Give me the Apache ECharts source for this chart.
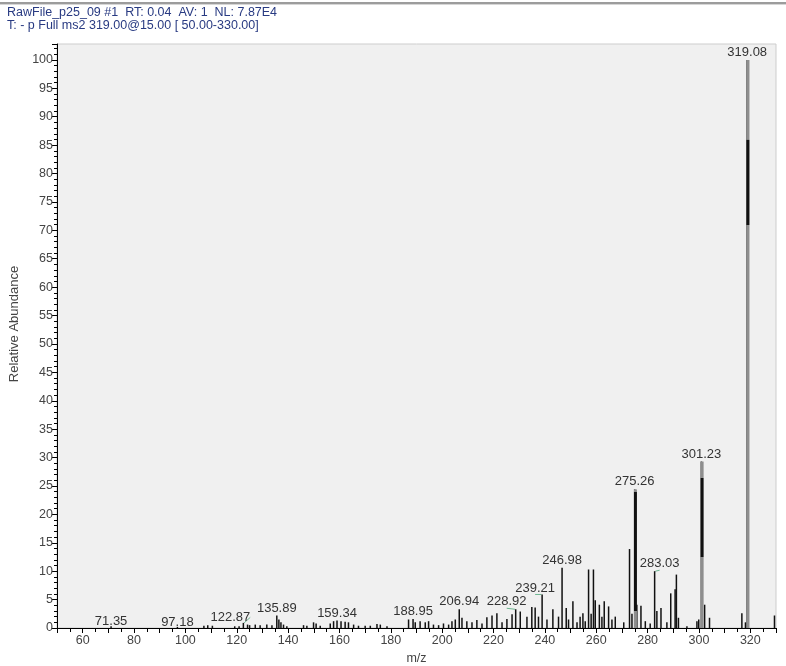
<!DOCTYPE html>
<html>
<head>
<meta charset="utf-8">
<title>MS2 spectrum</title>
<script src="https://cdn.jsdelivr.net/npm/echarts@6/dist/echarts.min.js"></script>
<style>
  html, body { margin: 0; padding: 0; background: #fff; }
  #spectrum { width: 786px; height: 666px; }
</style>
</head>
<body>
<div id="spectrum"></div>
<script>
// stick spectrum (m/z, relative abundance %)
const peakMz = [
  71.35, 97.18, 107.5, 109.0, 110.8, 119.5, 121.2, 122.87, 124.5, 125.3,
  127.5, 129.4, 132.0, 134.0, 135.89, 136.7, 137.5, 138.5, 139.8, 146.3,
  147.6, 150.2, 151.2, 152.8, 156.7, 158.0, 159.34, 160.9, 162.5, 163.8,
  165.8, 167.7, 170.3, 172.3, 174.9, 176.2, 178.8, 187.2, 188.95, 189.8,
  191.7, 193.7, 195.0, 196.9, 198.9, 200.8, 202.8, 204.1, 205.4, 206.94,
  208.0, 209.9, 211.9, 213.8, 215.8, 217.7, 219.7, 221.6, 223.6, 225.5,
  227.5, 228.92, 230.7, 233.3, 235.2, 236.5, 237.8, 239.21, 241.1, 243.4,
  245.6, 246.98, 248.6, 249.5, 251.2, 252.8, 254.0, 255.1, 256.0, 257.3,
  258.3, 259.2, 259.9, 261.5, 262.5, 263.4, 265.1, 266.4, 267.7, 271.0,
  273.25, 274.2, 275.26, 276.1, 277.7, 279.4, 281.3, 283.03, 283.9, 285.5,
  287.8, 289.3, 291.0, 291.5, 292.3, 295.6, 299.5, 300.2, 301.23, 302.5,
  304.4, 317.0, 318.4, 319.08, 329.7
];
const peakAbund = [
  0.3, 0.2, 0.4, 0.5, 0.4, 0.3, 0.3, 0.9, 0.6, 0.5,
  0.6, 0.5, 0.6, 0.5, 2.2, 1.5, 1.0, 0.6, 0.3, 0.5,
  0.4, 1.0, 0.8, 0.4, 0.8, 1.2, 1.3, 1.2, 1.1, 1.0,
  0.6, 0.4, 0.4, 0.4, 0.7, 0.6, 0.3, 1.5, 1.6, 1.0,
  1.2, 1.0, 1.2, 0.6, 0.5, 0.8, 0.6, 1.2, 1.5, 3.3,
  1.8, 1.2, 1.0, 1.4, 0.8, 1.9, 2.2, 2.6, 1.0, 1.6,
  2.4, 3.3, 2.9, 2.0, 3.7, 3.6, 2.0, 5.9, 1.5, 3.3,
  2.0, 10.6, 3.5, 1.5, 4.7, 1.0, 2.0, 2.6, 1.2, 10.3,
  2.5, 10.3, 4.9, 4.1, 2.0, 4.7, 3.8, 1.5, 2.0, 1.0,
  13.9, 2.5, 24.4, 4.1, 3.9, 1.2, 0.8, 10.0, 3.0, 3.5,
  1.0, 6.1, 6.8, 9.4, 1.8, 0.3, 1.2, 1.5, 29.3, 4.1,
  1.8, 2.6, 1.0, 100, 2.2
];
// peaks that carry an m/z annotation
const labelledMz = [71.35, 97.18, 122.87, 135.89, 159.34, 188.95, 206.94,
  228.92, 239.21, 246.98, 275.26, 283.03, 301.23, 319.08];
const yTicks = [0, 5, 10, 15, 20, 25, 30, 35, 40, 45, 50, 55, 60, 65, 70, 75, 80, 85, 90, 95, 100];
const xTicks = [60, 80, 100, 120, 140, 160, 180, 200, 220, 240, 260, 280, 300, 320];

const headerLine1 = 'RawFile_p25_09 #1  RT: 0.04  AV: 1  NL: 7.87E4';
const headerLine2 = 'T: - p Full ms2 319.00@15.00 [ 50.00-330.00]';

// label nudges (px) where the instrument software moved the text aside
const labelShift = {
  '71.35': [0, 3], '97.18': [0, 3], '122.87': [-13, 2],
  '228.92': [-9, 0], '239.21': [-7, 1], '283.03': [5, 0]
};
const guided = ['122.87', '228.92', '239.21', '283.03'];

// the tall peaks show a dark core inside a grey stick
function stickShade(top, darkFrom, darkTo) {
  const a = (top - darkFrom) / top, b = (top - darkTo) / top;
  return new echarts.graphic.LinearGradient(0, 0, 0, 1, [
    {offset: 0, color: '#8e8e8e'}, {offset: a, color: '#8e8e8e'},
    {offset: a + 0.001, color: '#111'}, {offset: b, color: '#111'},
    {offset: b + 0.001, color: '#8e8e8e'}, {offset: 1, color: '#8e8e8e'}
  ]);
}
const shade = {
  '319.08': stickShade(100, 86, 71),
  '301.23': stickShade(29.3, 26.4, 12.5),
  '275.26': stickShade(24.4, 24, 3)
};

const sticks = peakMz.map((mz, i) => {
  const key = mz.toFixed(2);
  const item = {value: [mz, peakAbund[i]]};
  if (labelledMz.indexOf(mz) >= 0) {
    item.label = {show: true};
    if (guided.indexOf(key) >= 0) {
      item.labelLine = {show: true, lineStyle: {color: '#6db590', width: 1}};
    }
  }
  return item;
});
const tallSticks = peakMz.map((mz, i) => [mz, peakAbund[i]])
  .filter(d => d[1] > 20)
  .map(d => ({value: d, itemStyle: {color: shade[d[0].toFixed(2)]}}));

const chart = echarts.init(document.getElementById('spectrum'), null, {renderer: 'canvas'});
chart.setOption({
  animation: false,
  backgroundColor: '#fff',
  textStyle: {fontFamily: '"Liberation Sans", Arial, sans-serif'},
  title: {
    text: headerLine1,
    subtext: headerLine2,
    left: 7,
    top: 7,
    itemGap: 0,
    padding: 0,
    textStyle: {fontSize: 12.5, fontWeight: 'normal', color: '#283a82', lineHeight: 12},
    subtextStyle: {fontSize: 12.5, color: '#283a82', lineHeight: 12}
  },
  graphic: [
    {type: 'rect', left: 0, top: 2, shape: {width: 786, height: 2}, style: {fill: '#9c9c9c'}, silent: true},
    {type: 'rect', left: 0, top: 4, shape: {width: 786, height: 1}, style: {fill: '#d6d6d6'}, silent: true}
  ],
  grid: {
    left: 57, right: 10, top: 44, bottom: 38,
    outerBoundsMode: 'none', containLabel: false,
    show: true, backgroundColor: '#f0f0f0', borderColor: '#cdcdcd', borderWidth: 1
  },
  xAxis: {
    type: 'value',
    min: 50, max: 330, interval: 10,
    name: 'm/z', nameLocation: 'middle', nameGap: 24,
    nameTextStyle: {fontSize: 12.5, color: '#444'},
    axisLine: {lineStyle: {color: '#000', width: 1}},
    axisTick: {length: 5, lineStyle: {color: '#000'}},
    minorTick: {show: true, splitNumber: 2, length: 4, lineStyle: {color: '#000'}},
    axisLabel: {
      fontSize: 12.5, color: '#444', margin: 6,
      formatter: v => xTicks.indexOf(v) >= 0 ? String(v) : ''
    },
    splitLine: {show: false}
  },
  yAxis: {
    type: 'value',
    min: 0, max: 102.8, interval: 5,
    name: 'Relative Abundance', nameLocation: 'middle', nameGap: 31,
    nameTextStyle: {fontSize: 13, color: '#444', padding: [0, 0, 0, 24]},
    axisLine: {lineStyle: {color: '#000', width: 1}},
    axisTick: {length: 5, lineStyle: {color: '#000'}},
    minorTick: {show: true, splitNumber: 5, length: 3, lineStyle: {color: '#000'}},
    axisLabel: {
      fontSize: 12.5, color: '#444', margin: 4, showMaxLabel: false,
      formatter: v => yTicks.indexOf(v) >= 0 ? String(v) : ''
    },
    splitLine: {show: false}
  },
  series: [
    {
      name: 'spectrum',
      type: 'bar',
      barWidth: 1.5,
      barGap: '-100%',
      itemStyle: {color: '#111'},
      label: {
        show: false, position: 'top', distance: 1,
        fontSize: 13, color: '#333',
        formatter: p => p.value[0].toFixed(2)
      },
      labelLine: {show: false, smooth: 0.3},
      labelLayout: p => {
        const s = labelShift[p.text];
        return s ? {dx: s[0], dy: s[1]} : {};
      },
      data: sticks
    },
    {
      name: 'base peaks',
      type: 'bar',
      barWidth: 3,
      barGap: '-100%',
      data: tallSticks,
      z: 3
    }
  ]
});
window.addEventListener('resize', () => chart.resize());
</script>
</body>
</html>
